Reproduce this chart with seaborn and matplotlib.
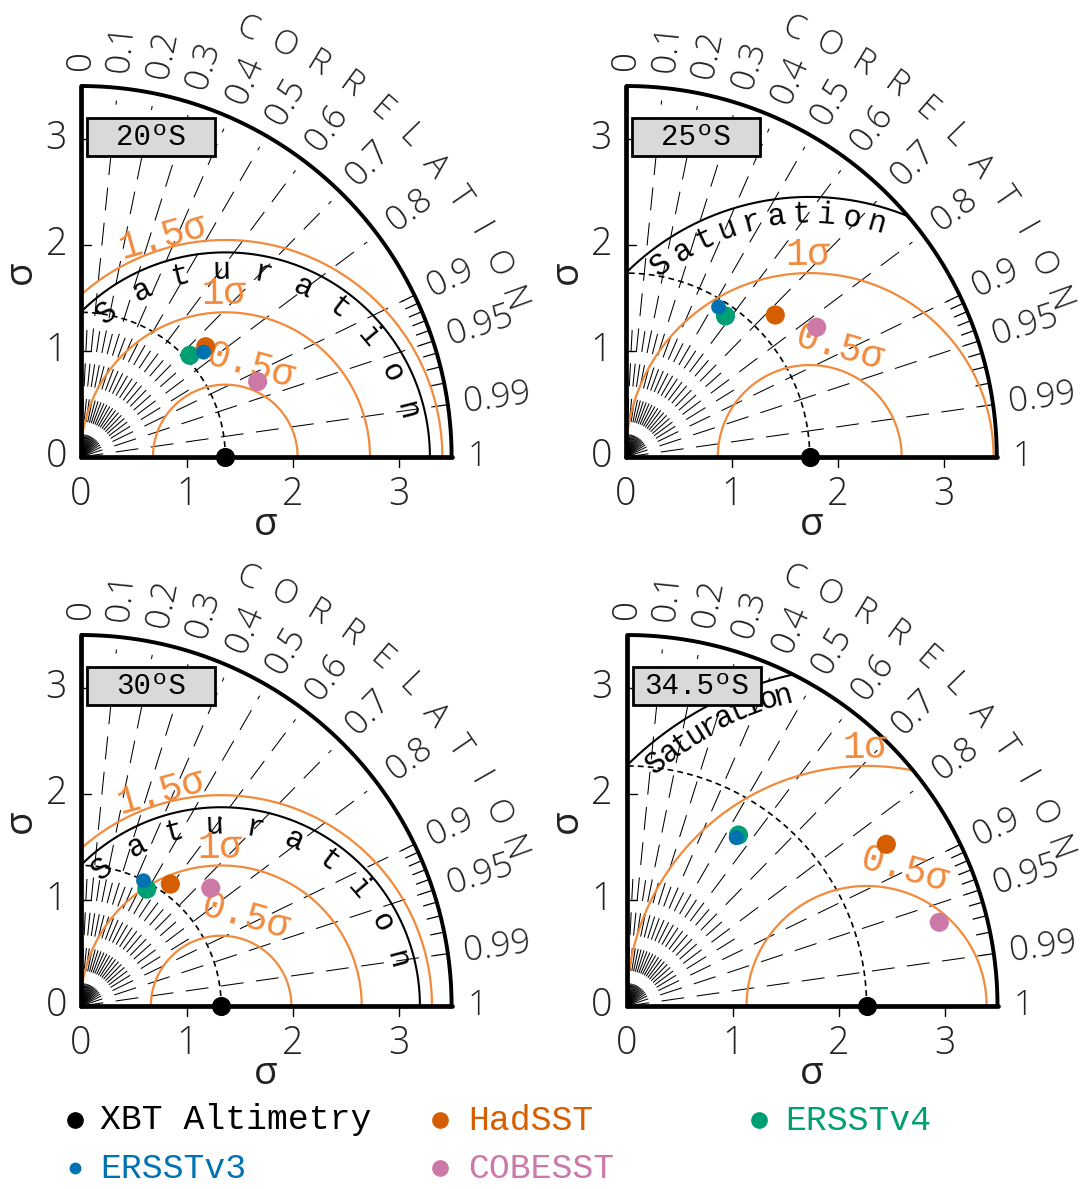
import numpy as np
import pandas as pd
import matplotlib
matplotlib.use("Agg")
import matplotlib.pyplot as plt
from matplotlib.lines import Line2D
from matplotlib.patches import Rectangle
import seaborn as sns

sns.set_theme(style="white")
plt.rcParams['font.family'] = ['Open Sans', 'DejaVu Sans']

# ---------------- data ----------------
regions = ["20ºS", "25ºS", "30ºS", "34.5ºS"]
products = ["HadSST", "ERSSTv4", "COBESST", "ERSSTv3"]

# reference (XBT Altimetry) standard deviation in each region
ref_std = [1.365, 1.735, 1.326, 2.265]

# standard deviation and correlation of each SST product, per region
had_std = [1.573, 1.945, 1.428, 2.887]
had_cor = [0.750, 0.725, 0.593, 0.849]
v4_std = [1.408, 1.629, 1.267, 1.928]
v4_cor = [0.732, 0.577, 0.493, 0.548]
v3_std = [1.525, 1.664, 1.322, 1.896]
v3_cor = [0.761, 0.526, 0.449, 0.546]
cobe_std = [1.815, 2.177, 1.657, 3.055]
cobe_cor = [0.920, 0.827, 0.741, 0.966]

# centred-RMS circles shown in each panel (multiples of the reference std)
rms_levels = [[0.5, 1.0, 1.5], [0.5, 1.0], [0.5, 1.0, 1.5], [0.5, 1.0]]
rms_names = {0.5: "0.5σ", 1.0: "1σ", 1.5: "1.5σ"}

cor_ticks = [0, 0.1, 0.2, 0.3, 0.4, 0.5, 0.6, 0.7, 0.8, 0.9, 0.95, 0.99, 1]
cor_labels = ["0", "0.1", "0.2", "0.3", "0.4", "0.5", "0.6", "0.7", "0.8",
              "0.9", "0.95", "0.99", "1"]
std_ticks = [0, 1, 2, 3]

# ---------------- style ----------------
colors = {"XBT Altimetry": "black", "HadSST": "#d55e00", "ERSSTv4": "#009e73",
          "ERSSTv3": "#0072b2", "COBESST": "#cc79a7"}
sizes = {"HadSST": 190, "ERSSTv4": 190, "COBESST": 190, "ERSSTv3": 115}
ORANGE = "#f28a3c"
TXT = "#222222"
MONO = ['Liberation Mono', 'DejaVu Sans Mono']
SANS = ['Open Sans', 'DejaVu Sans']
RMAX = 3.5
UNIT = 106.0
W, H = 1081, 1189
origins = [(80.6, 457), (625.8, 457), (80.6, 1006), (626.5, 1006)]
# angular span (deg, about the reference point) of the "Saturation" letters
sat_span = [(129.5, 14.3), (127.7, 74.1), (130.9, 14.8), (130.8, 105.0)]
rms_lab_ang = {0.5: 74.5, 1.0: 90.5, 1.5: 105.7}
rms_lab_off = {0.5: 0.20, 1.0: 0.17, 1.5: 0.11}

fig = plt.figure(figsize=(W / 100, H / 100), dpi=100)


def clipped_arc(cx, r, n=4000):
    t = np.linspace(0, np.pi, n)
    x = cx + r * np.cos(t)
    y = r * np.sin(t)
    keep = (x >= 0) & (np.hypot(x, y) <= RMAX)
    return x[keep], y[keep]


for k, reg in enumerate(regions):
    ox, oy = origins[k]
    span = RMAX * UNIT
    ax = fig.add_axes([ox / W, (H - oy) / H, span / W, span / H])
    ax.set_xlim(0, RMAX)
    ax.set_ylim(0, RMAX)
    ax.axis("off")
    ref = ref_std[k]

    # frame: axes lines and outer arc
    th = np.linspace(0, np.pi / 2, 400)
    ax.plot(RMAX * np.cos(th), RMAX * np.sin(th), color="black", lw=2.8,
            clip_on=False, zorder=3, solid_capstyle="butt")
    ax.plot([0, RMAX], [0, 0], color="black", lw=3.4, clip_on=False, zorder=3)
    ax.plot([0, 0], [0, RMAX], color="black", lw=3.4, clip_on=False, zorder=3)

    # std ticks
    for t in std_ticks[1:]:
        ax.plot([0, 0.1], [t, t], color="black", lw=1, clip_on=False)
        ax.plot([t, t], [0, -0.09], color="black", lw=1, clip_on=False)
    for t in std_ticks:
        ax.text(t, -0.36, str(t), ha="center", va="center", fontsize=27,
                family=SANS, fontweight="light", color=TXT)
        ax.text(-0.23, t, str(t), ha="center", va="center", fontsize=27,
                family=SANS, fontweight="light", color=TXT)
    ax.text(1.75, -0.64, "σ", ha="center", va="center", fontsize=28,
            family=SANS, color=TXT)
    ax.text(-0.56, 1.74, "σ", ha="center", va="center", fontsize=28,
            family=SANS, rotation=90, color=TXT)

    # correlation rays
    for c in cor_ticks[1:-1]:
        a = np.arccos(c)
        ax.plot([0, 3.38 * np.cos(a)], [0, 3.38 * np.sin(a)], color="black",
                lw=0.75, dashes=(22, 12), zorder=1)
    for c in np.arange(0.05, 0.9, 0.1):
        a = np.arccos(c)
        ax.plot([0, 1.2 * np.cos(a)], [0, 1.2 * np.sin(a)], color="black",
                lw=0.75, dashes=(22, 12), zorder=1)
    # minor ticks on the outer arc
    for c in np.arange(0.90, 0.995, 0.01):
        a = np.arccos(c)
        ax.plot([3.37 * np.cos(a), RMAX * np.cos(a)],
                [3.37 * np.sin(a), RMAX * np.sin(a)], color="black", lw=0.9)

    # correlation labels
    for c, lab in zip(cor_ticks, cor_labels):
        a = np.arccos(c)
        ax.text(3.65 * np.cos(a), 3.65 * np.sin(a), lab, rotation=np.degrees(a),
                rotation_mode="anchor", ha="left", va="center", fontsize=25,
                family=SANS, fontweight="light", color=TXT)
    for ch, ang in zip("CORRELATION", np.linspace(68.6, 19.9, 11)):
        a = np.radians(ang)
        ax.text(4.33 * np.cos(a), 4.33 * np.sin(a), ch, rotation=ang - 90,
                rotation_mode="anchor", ha="center", va="center", fontsize=24,
                family=SANS, fontweight="light", color=TXT)

    # reference std arc
    ax.plot(ref * np.cos(th), ref * np.sin(th), color="black", lw=1.2,
            dashes=(3.5, 2.5), zorder=2)

    # RMS circles
    for lev in rms_levels[k]:
        x, y = clipped_arc(ref, lev * ref)
        ax.plot(x, y, color=ORANGE, lw=1.6, zorder=2)
        r_lab = lev * ref + rms_lab_off[lev]
        ang = rms_lab_ang[lev]
        a = np.radians(ang)
        ax.text(ref + r_lab * np.cos(a), r_lab * np.sin(a), rms_names[lev],
                rotation=ang - 90, rotation_mode="anchor", ha="center",
                va="center", fontsize=27, family=MONO, color=ORANGE, zorder=6)

    # saturation arc (sqrt(2) * reference std)
    rs = np.sqrt(2) * ref
    x, y = clipped_arc(ref, rs)
    ax.plot(x, y, color="black", lw=1.5, zorder=2)
    a0, a1 = sat_span[k]
    rl = rs - 0.17
    for ch, ang in zip("Saturation", np.linspace(a0, a1, 10)):
        a = np.radians(ang)
        ax.text(ref + rl * np.cos(a), rl * np.sin(a), ch, rotation=ang - 90,
                rotation_mode="anchor", ha="center", va="center", fontsize=22,
                family=MONO, color="black", zorder=4)

    # region box
    ax.add_patch(Rectangle((0.06, 2.835), 1.21, 0.365, facecolor="#d9d9d9",
                           edgecolor="black", lw=2, zorder=8, clip_on=False))
    ax.text(0.665, 3.02, reg, ha="center", va="center", fontsize=21,
            family=MONO, color="black", zorder=9)

    # data points
    stds = [had_std[k], v4_std[k], cobe_std[k], v3_std[k]]
    cors = [had_cor[k], v4_cor[k], cobe_cor[k], v3_cor[k]]
    df = pd.DataFrame({"product": products, "std": stds, "cor": cors})
    df["x"] = df["std"] * df["cor"]
    df["y"] = df["std"] * np.sqrt(1 - df["cor"] ** 2)
    sns.scatterplot(data=df, x="x", y="y", hue="product", palette=colors,
                    size="product", sizes=sizes, legend=False, ax=ax,
                    linewidth=0, clip_on=False, zorder=7)
    ref_df = pd.DataFrame({"x": [ref], "y": [0.0]})
    sns.scatterplot(data=ref_df, x="x", y="y", color="black", s=190,
                    linewidth=0, ax=ax, clip_on=False, zorder=7, legend=False)
    ax.set_xlabel("")
    ax.set_ylabel("")

# ---------------- legend ----------------
legend_items = [("XBT Altimetry", 75, 100, 1120, 11),
                ("HadSST", 440, 468, 1120, 11),
                ("ERSSTv4", 759, 785, 1120, 11),
                ("ERSSTv3", 75, 100, 1168, 7.5),
                ("COBESST", 440, 468, 1168, 11)]
for name, mx, tx, yy, ms in legend_items:
    fig.add_artist(Line2D([mx / W], [1 - yy / H], marker="o", ms=ms, lw=0,
                          color=colors[name], transform=fig.transFigure))
    fig.text(tx / W, 1 - yy / H, name, ha="left", va="center", fontsize=25,
             family=MONO, color=colors[name])

fig.savefig("out.png", dpi=100)
